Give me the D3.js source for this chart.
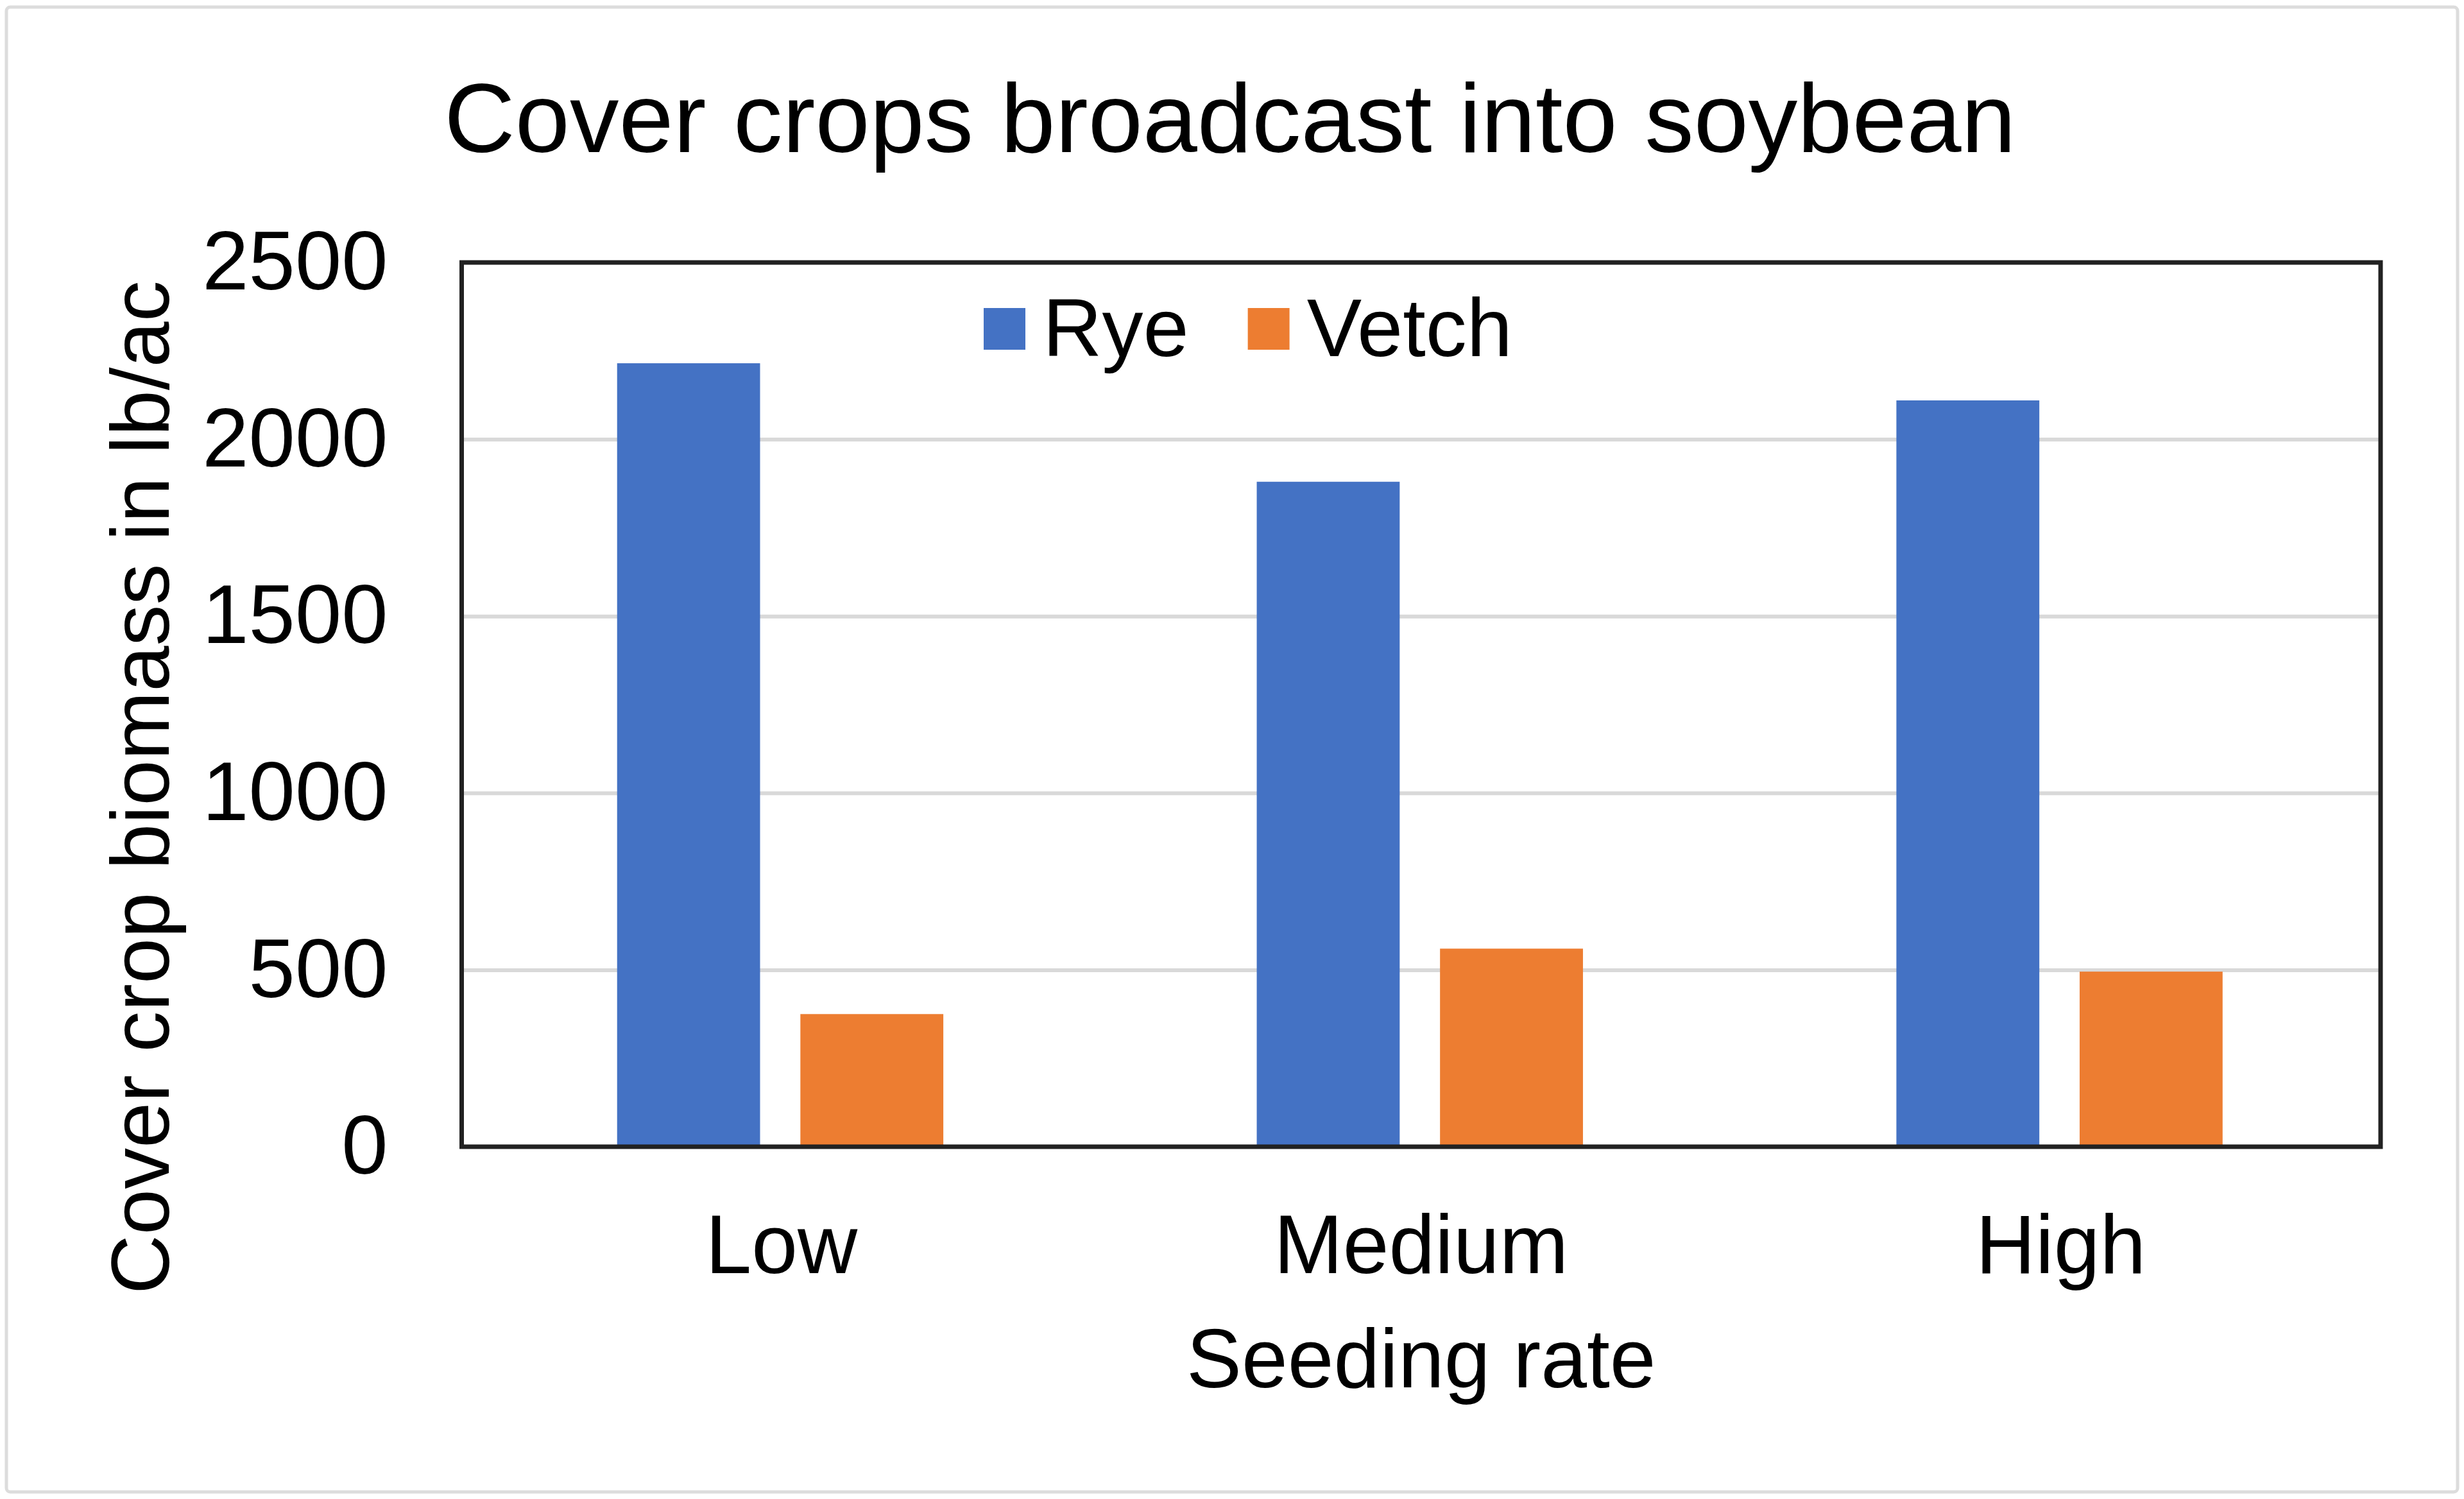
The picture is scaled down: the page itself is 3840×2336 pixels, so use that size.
<!DOCTYPE html>
<html>
<head>
<meta charset="utf-8">
<script src="https://cdn.jsdelivr.net/npm/d3@7"></script>
<style>
  html, body { margin: 0; padding: 0; background: #fff; }
  svg { display: block; font-family: "Liberation Sans", Arial, sans-serif; }
</style>
</head>
<body>
<div id="chart"></div>
<script>
// Data
const categories = ['Low', 'Medium', 'High'];
const series = ['Rye', 'Vetch'];
const ryeValues = [2215, 1880, 2110];
const vetchValues = [375, 560, 495];
const yTicks = [0, 500, 1000, 1500, 2000, 2500];

const titleText = 'Cover crops broadcast into soybean';
const xTitleText = 'Seeding rate';
const yTitleText = 'Cover crop biomass in lb/ac';

const colors = { Rye: '#4472C4', Vetch: '#ED7D31' };

const rows = categories.map((c, i) => ({
  category: c,
  values: [
    { key: 'Rye', value: ryeValues[i] },
    { key: 'Vetch', value: vetchValues[i] }
  ]
}));

const width = 3840, height = 2336;
const margin = { top: 409, right: 130, bottom: 549, left: 719.5 };
const plotW = width - margin.left - margin.right;
const plotH = height - margin.top - margin.bottom;

const svg = d3.select('#chart').append('svg')
  .attr('width', width)
  .attr('height', height);

// Outer chart border
svg.append('rect')
  .attr('x', 10).attr('y', 11)
  .attr('width', width - 20).attr('height', height - 22)
  .attr('rx', 6)
  .attr('fill', '#fff')
  .attr('stroke', '#dcdcdc')
  .attr('stroke-width', 5);

// Scales
const x0 = d3.scaleBand()
  .domain(categories)
  .range([0, plotW])
  .padding(0);
const bw = x0.bandwidth();
const x1 = d3.scaleBand()
  .domain(series)
  .range([bw * 0.243, bw * 0.753])
  .paddingInner(0.22);
const y = d3.scaleLinear()
  .domain([0, 2500])
  .range([plotH, 0]);

const g = svg.append('g')
  .attr('transform', `translate(${margin.left},${margin.top})`);

// Gridlines
g.append('g')
  .attr('class', 'grid')
  .call(d3.axisLeft(y).tickValues(yTicks).tickSize(-plotW).tickFormat(''))
  .call(s => s.select('.domain').remove())
  .call(s => s.selectAll('line').attr('stroke', '#d9d9d9').attr('stroke-width', 6));

// Bars
const groups = g.selectAll('.cat')
  .data(rows)
  .join('g')
  .attr('class', 'cat')
  .attr('transform', d => `translate(${x0(d.category)},0)`);

groups.selectAll('rect')
  .data(d => d.values)
  .join('rect')
  .attr('x', d => x1(d.key))
  .attr('width', x1.bandwidth())
  .attr('y', d => y(d.value))
  .attr('height', d => plotH - y(d.value))
  .attr('fill', d => colors[d.key]);

// Plot frame
g.append('rect')
  .attr('width', plotW)
  .attr('height', plotH)
  .attr('fill', 'none')
  .attr('stroke', '#222')
  .attr('stroke-width', 7);

// Y tick labels
g.append('g')
  .attr('class', 'y-axis')
  .call(d3.axisLeft(y).tickValues(yTicks).tickSize(0).tickPadding(115).tickFormat(d3.format('d')))
  .call(s => s.select('.domain').remove())
  .call(s => s.selectAll('text')
    .attr('font-family', '"Liberation Sans", Arial, sans-serif')
    .attr('font-size', 130)
    .attr('fill', '#000'));

// X tick labels
g.append('g')
  .attr('class', 'x-axis')
  .attr('transform', `translate(0,${plotH})`)
  .call(d3.axisBottom(x0).tickSize(0).tickPadding(105))
  .call(s => s.select('.domain').remove())
  .call(s => s.selectAll('text')
    .attr('font-family', '"Liberation Sans", Arial, sans-serif')
    .attr('font-size', 129)
    .attr('fill', '#000'));

// Title
svg.append('text')
  .attr('x', 1917)
  .attr('y', 237)
  .attr('text-anchor', 'middle')
  .attr('font-size', 153)
  .attr('fill', '#000')
  .text(titleText);

// Axis titles
svg.append('text')
  .attr('x', margin.left + plotW / 2)
  .attr('y', 2162)
  .attr('text-anchor', 'middle')
  .attr('font-size', 129)
  .attr('fill', '#000')
  .text(xTitleText);

svg.append('text')
  .attr('transform', 'translate(263,1227) rotate(-90)')
  .attr('text-anchor', 'middle')
  .attr('font-size', 128)
  .attr('fill', '#000')
  .text(yTitleText);

// Legend
const legend = svg.append('g')
  .attr('class', 'legend')
  .attr('transform', 'translate(1533,480)');
let lx = 0;
series.forEach(s => {
  const item = legend.append('g').attr('transform', `translate(${lx},0)`);
  item.append('rect')
    .attr('width', 65)
    .attr('height', 65)
    .attr('fill', colors[s]);
  const t = item.append('text')
    .attr('x', 92)
    .attr('y', 75)
    .attr('font-size', 128)
    .attr('fill', '#000')
    .text(s);
  lx += 92 + t.node().getComputedTextLength() + 92;
});
</script>
</body>
</html>
